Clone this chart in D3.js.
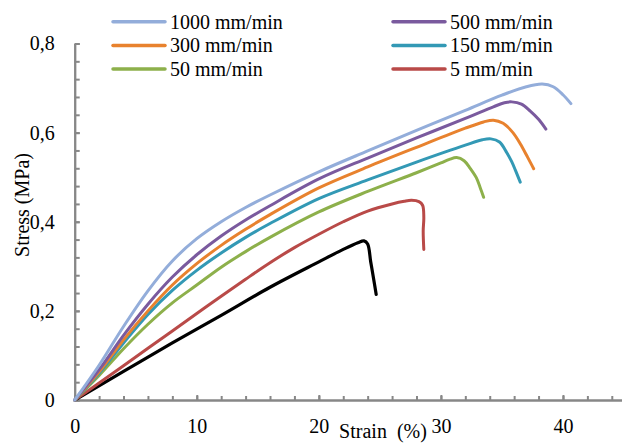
<!DOCTYPE html>
<html>
<head>
<meta charset="utf-8">
<script src="https://cdn.jsdelivr.net/npm/d3@7"></script>
<style>
  body { margin: 0; background: #fff; }
  text { font-family: "Liberation Serif", "Times New Roman", serif; fill: #000; }
</style>
</head>
<body>
<div id="chart"></div>
<script>
// data: [strain %, stress MPa]
var speeds = ["1000 mm/min", "500 mm/min", "300 mm/min", "150 mm/min", "50 mm/min", "5 mm/min", ""];

var s1000 = [[0,0],[2,0.078],[4,0.165],[6,0.245],[8,0.312],[10,0.362],[12,0.4],[14,0.432],[16,0.46],[20,0.512],[24,0.559],[28,0.605],[32,0.65],[35,0.684],[37,0.703],[38.3,0.709],[39.2,0.703],[40,0.685],[40.65,0.665]];
var s500 = [[0,0],[2,0.068],[4,0.145],[6,0.215],[8,0.276],[10,0.326],[12,0.368],[14,0.404],[16,0.436],[20,0.496],[24,0.543],[28,0.588],[32,0.632],[34.3,0.658],[35.2,0.667],[35.8,0.669],[36.6,0.664],[37.3,0.649],[38,0.63],[38.6,0.608]];
var s300 = [[0,0],[2,0.063],[4,0.135],[6,0.2],[8,0.258],[10,0.306],[12,0.347],[14,0.383],[16,0.416],[20,0.476],[24,0.523],[28,0.567],[32,0.61],[33.5,0.624],[34.3,0.628],[35.1,0.621],[35.9,0.6],[36.5,0.575],[37.1,0.545],[37.6,0.519]];
var s150 = [[0,0],[2,0.06],[4,0.128],[6,0.192],[8,0.246],[10,0.291],[12,0.33],[14,0.365],[16,0.396],[20,0.452],[24,0.494],[28,0.534],[32,0.572],[33.4,0.584],[34.1,0.586],[34.8,0.579],[35.4,0.555],[35.8,0.535],[36.1,0.516],[36.5,0.489]];
var s50 = [[0,0],[2,0.055],[4,0.115],[6,0.17],[8,0.218],[10,0.258],[12,0.298],[14,0.333],[16,0.365],[20,0.422],[24,0.468],[28,0.51],[30,0.532],[30.7,0.54],[31.3,0.544],[31.9,0.537],[32.4,0.52],[32.9,0.499],[33.2,0.478],[33.5,0.455]];
var s5 = [[0,0],[2,0.038],[4,0.077],[6,0.116],[8,0.155],[10,0.194],[12,0.233],[14,0.271],[16,0.308],[18,0.342],[20,0.372],[22,0.4],[24,0.424],[26,0.44],[27,0.446],[27.6,0.448],[28.2,0.445],[28.5,0.437],[28.6,0.41],[28.55,0.38],[28.6,0.338]];
var sBlack = [[0,0],[4,0.064],[8,0.128],[12,0.19],[16,0.253],[20,0.31],[22,0.338],[23.2,0.353],[23.7,0.357],[24,0.35],[24.25,0.31],[24.5,0.27],[24.7,0.237]];

var xTicks = [0, 10, 20, 30, 40];
var yTicks = [0, 0.2, 0.4, 0.6, 0.8];

var series = [s1000, s500, s300, s150, s50, s5, sBlack];
var colors = ["#93ADDA", "#7A5A9E", "#E8822E", "#3399B5", "#8DB04B", "#B94A48", "#000000"];

svgWidth = 622;
svgHeight = 444;

margin = { top: 43.5, right: -2, bottom: 44, left: 74.7 };

width = svgWidth - margin.left - margin.right;
height = svgHeight - margin.top - margin.bottom;

svg = d3.select("#chart")
    .append("svg")
    .attr("width", svgWidth)
    .attr("height", svgHeight);

var chartGroup = svg.append("g")
  .attr("transform", `translate(${margin.left}, ${margin.top})`);

var xLinearScale = d3.scaleLinear().domain([0, 45]).range([0, width]);
var yLinearScale = d3.scaleLinear().domain([0, 0.8]).range([height, 0]);

var fmt = d => d3.format(".1f")(d).replace(".0", "").replace(".", ",");
var grey = "#878787";

// minor ticks first, then the labelled ones
chartGroup.append("g")
  .attr("transform", `translate(0, ${height})`)
  .call(d3.axisBottom(xLinearScale).tickValues(d3.range(0, 45, 2)).tickSizeInner(-4).tickSizeOuter(0).tickFormat(""));
chartGroup.append("g")
  .attr("transform", `translate(0, ${height})`)
  .call(d3.axisBottom(xLinearScale).tickValues(xTicks).tickSizeInner(-5).tickSizeOuter(0).tickPadding(19).tickFormat(d => d));

chartGroup.append("g")
  .call(d3.axisLeft(yLinearScale).tickValues(d3.range(0, 0.81, 0.04)).tickSizeInner(-5).tickSizeOuter(0).tickFormat(""));
chartGroup.append("g")
  .call(d3.axisLeft(yLinearScale).tickValues(yTicks).tickSizeInner(-5).tickSizeOuter(0).tickPadding(20).tickFormat(fmt));

chartGroup.selectAll(".domain, .tick line")
  .attr("stroke", grey)
  .attr("stroke-width", 2);
chartGroup.selectAll(".tick text")
  .style("font-size", "20px")
  .style("font-family", "'Liberation Serif', 'Times New Roman', serif")
  .attr("fill", "#000");

var line = d3.line()
  .x(d => xLinearScale(d[0]))
  .y(d => yLinearScale(d[1]))
  .curve(d3.curveCatmullRom.alpha(0.5));

// black first so the coloured ones sit on top at the origin
chartGroup.selectAll(".curve")
  .data(series.map((s, i) => ({ s: s, c: colors[i], i: i })).reverse())
  .enter()
  .append("path")
  .attr("class", "curve")
  .attr("d", d => line(d.s))
  .attr("fill", "none")
  .attr("stroke", d => d.c)
  .attr("stroke-width", d => d.i == 6 ? 3.2 : 3)
  .attr("stroke-linejoin", "round")
  .attr("stroke-linecap", "round");

// legend, two columns
var legend = svg.append("g");
var items = legend.selectAll("g")
  .data(speeds.slice(0, 6))
  .enter()
  .append("g")
  .attr("transform", (d, i) => `translate(${i % 2 == 0 ? 113 : 393}, ${21.7 + Math.floor(i / 2) * 23.7})`);

items.append("line")
  .attr("x1", 0).attr("x2", 52)
  .attr("stroke", (d, i) => colors[i])
  .attr("stroke-width", 3.5)
  .attr("stroke-linecap", "round");

items.append("text")
  .attr("x", 57)
  .attr("y", 7)
  .style("font-size", "20px")
  .text(d => d);

// axis titles
svg.append("text")
  .attr("transform", "translate(29, 205) rotate(-90)")
  .attr("text-anchor", "middle")
  .style("font-size", "20px")
  .text("Stress (MPa)");

svg.append("text")
  .attr("x", 383)
  .attr("y", 438)
  .attr("text-anchor", "middle")
  .style("font-size", "20px")
  .style("white-space", "pre")
  .text("Strain  (%)");
</script>
</body>
</html>
